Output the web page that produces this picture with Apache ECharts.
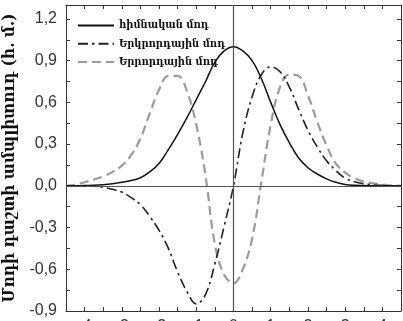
<!DOCTYPE html>
<html>
<head>
<meta charset="utf-8">
<style>
  html, body { margin: 0; padding: 0; background: #ffffff; overflow: hidden; }
  #chart { width: 403px; height: 321px; }
</style>
<script src="https://cdn.jsdelivr.net/npm/echarts@6/dist/echarts.min.js"></script>
</head>
<body>
<div id="chart"></div>
<script>
// Transverse coordinate (tick units)
const xValues = [-4.5, -4.25, -4.0, -3.75, -3.5, -3.25, -3.0, -2.75, -2.5, -2.25, -2.0, -1.75, -1.5, -1.25, -1.0, -0.75, -0.5, -0.25,
  0, 0.25, 0.5, 0.75, 1.0, 1.25, 1.5, 1.75, 2.0, 2.25, 2.5, 2.75, 3.0, 3.25, 3.5, 3.75, 4.0, 4.25, 4.5];

// Fundamental mode field amplitude
const fundamental = [0, 0, 0.002, 0.004, 0.008, 0.015, 0.025, 0.038, 0.058, 0.10, 0.16, 0.26, 0.37, 0.49, 0.62, 0.75, 0.89, 0.97,
  1.0, 0.97, 0.90, 0.77, 0.60, 0.44, 0.31, 0.20, 0.13, 0.085, 0.05, 0.025, 0.01, 0.004, 0.002, 0, 0, 0, 0];

// Second mode field amplitude
const secondMode = [0, 0, 0, -0.003, -0.01, -0.025, -0.045, -0.085, -0.135, -0.22, -0.32, -0.45, -0.62, -0.76, -0.85, -0.78, -0.56, -0.29,
  0, 0.38, 0.64, 0.80, 0.855, 0.82, 0.71, 0.55, 0.40, 0.28, 0.18, 0.11, 0.055, 0.03, 0.015, 0.007, 0.003, 0, 0];

// Third mode field amplitude
const thirdMode = [0, 0.008, 0.026, 0.045, 0.068, 0.10, 0.145, 0.22, 0.34, 0.52, 0.69, 0.79, 0.79, 0.68, 0.44, 0.07, -0.42, -0.64,
  -0.70, -0.60, -0.38, 0.03, 0.44, 0.71, 0.80, 0.79, 0.65, 0.46, 0.29, 0.16, 0.095, 0.055, 0.03, 0.018, 0.01, 0.003, 0];

const seriesNames = ['հիմնական մոդ', 'Երկրորդային մոդ', 'Երրորդային մոդ'];
const yTickValues = [-0.9, -0.6, -0.3, 0, 0.3, 0.6, 0.9, 1.2];
const yTickLabels = ['-0,9', '-0,6', '-0,3', '0,0', '0,3', '0,6', '0,9', '1,2'];
const xTickValues = [-4, -3, -2, -1, 0, 1, 2, 3, 4];
const xTickLabels = ['-4', '-3', '-2', '-1', '0', '1', '2', '3', '4'];
const yTitle = 'Մոդի դաշտի ամպլիտուդ (հ. մ.)';

const pairs = arr => xValues.map((x, i) => [x, arr[i]]);
const findLabel = (vals, labels, v) => {
  for (let i = 0; i < vals.length; i++) if (Math.abs(vals[i] - v) < 1e-6) return labels[i];
  return '';
};

const frameColor = '#333';
const labelFont = { color: '#333', fontSize: 16, fontFamily: 'Liberation Sans Narrow, Liberation Sans, Arial, sans-serif' };
const armenianFont = 'DejaVu Serif Condensed, DejaVu Serif, serif';

const chart = echarts.init(document.getElementById('chart'), null, { renderer: 'canvas' });
chart.setOption({
  animation: false,
  backgroundColor: '#ffffff',
  grid: { left: 66, right: 2, top: 5, bottom: 10, containLabel: false, outerBoundsMode: 'none' },
  legend: {
    orient: 'vertical',
    left: 72,
    top: 15,
    itemWidth: 36,
    itemHeight: 14,
    itemGap: 7,
    data: seriesNames,
    itemStyle: { opacity: 0 },
    textStyle: { color: '#111', fontSize: 11, fontWeight: 'bold', fontFamily: armenianFont }
  },
  xAxis: [
    {
      type: 'value', position: 'bottom', min: -4.5, max: 4.5, interval: 0.5,
      axisLine: { show: true, onZero: false, lineStyle: { color: frameColor, width: 1 } },
      axisTick: { show: true, inside: true, length: 4, lineStyle: { color: frameColor } },
      axisLabel: Object.assign({ margin: 8, formatter: v => findLabel(xTickValues, xTickLabels, v) }, labelFont),
      splitLine: { show: false }
    },
    {
      type: 'value', position: 'top', min: -4.5, max: 4.5, interval: 0.5,
      axisLine: { show: true, onZero: false, lineStyle: { color: frameColor, width: 1 } },
      axisTick: { show: true, inside: true, length: 4, lineStyle: { color: frameColor } },
      axisLabel: { show: false },
      splitLine: { show: false }
    }
  ],
  yAxis: [
    {
      type: 'value', position: 'left', min: -0.9, max: 1.3, interval: 0.15,
      axisLine: { show: true, onZero: false, lineStyle: { color: frameColor, width: 1 } },
      axisTick: { show: true, inside: true, length: 4, lineStyle: { color: frameColor } },
      axisLabel: Object.assign({ margin: 9, formatter: v => findLabel(yTickValues, yTickLabels, v) }, labelFont),
      splitLine: { show: false },
      name: yTitle,
      nameLocation: 'middle',
      nameRotate: 90,
      nameGap: 42,
      nameTextStyle: { color: '#111', fontSize: 17, fontWeight: 'bold', fontFamily: armenianFont }
    },
    {
      type: 'value', position: 'right', min: -0.9, max: 1.3, interval: 0.15,
      axisLine: { show: true, onZero: false, lineStyle: { color: frameColor, width: 1 } },
      axisTick: { show: true, inside: true, length: 4, lineStyle: { color: frameColor } },
      axisLabel: { show: false },
      splitLine: { show: false }
    }
  ],
  series: [
    {
      name: seriesNames[0], type: 'line', data: pairs(fundamental), smooth: 0.4,
      symbol: 'none', showSymbol: false,
      lineStyle: { color: '#111', width: 1.5, type: 'solid' },
      itemStyle: { color: '#111' },
      z: 3,
      markLine: {
        silent: true, symbol: ['none', 'none'], label: { show: false },
        lineStyle: { color: '#555', width: 1.2, type: 'solid' },
        data: [{ xAxis: 0 }, { yAxis: 0 }]
      }
    },
    {
      name: seriesNames[1], type: 'line', data: pairs(secondMode), smooth: 0.4,
      symbol: 'none', showSymbol: false,
      lineStyle: { color: '#222', width: 1.6, type: [10, 4, 2.5, 4] },
      itemStyle: { color: '#222' },
      z: 4
    },
    {
      name: seriesNames[2], type: 'line', data: pairs(thirdMode), smooth: 0.4,
      symbol: 'none', showSymbol: false,
      lineStyle: { color: '#9a9a9a', width: 2.2, type: [9, 5] },
      itemStyle: { color: '#9a9a9a' },
      z: 2
    }
  ]
});
</script>
</body>
</html>
